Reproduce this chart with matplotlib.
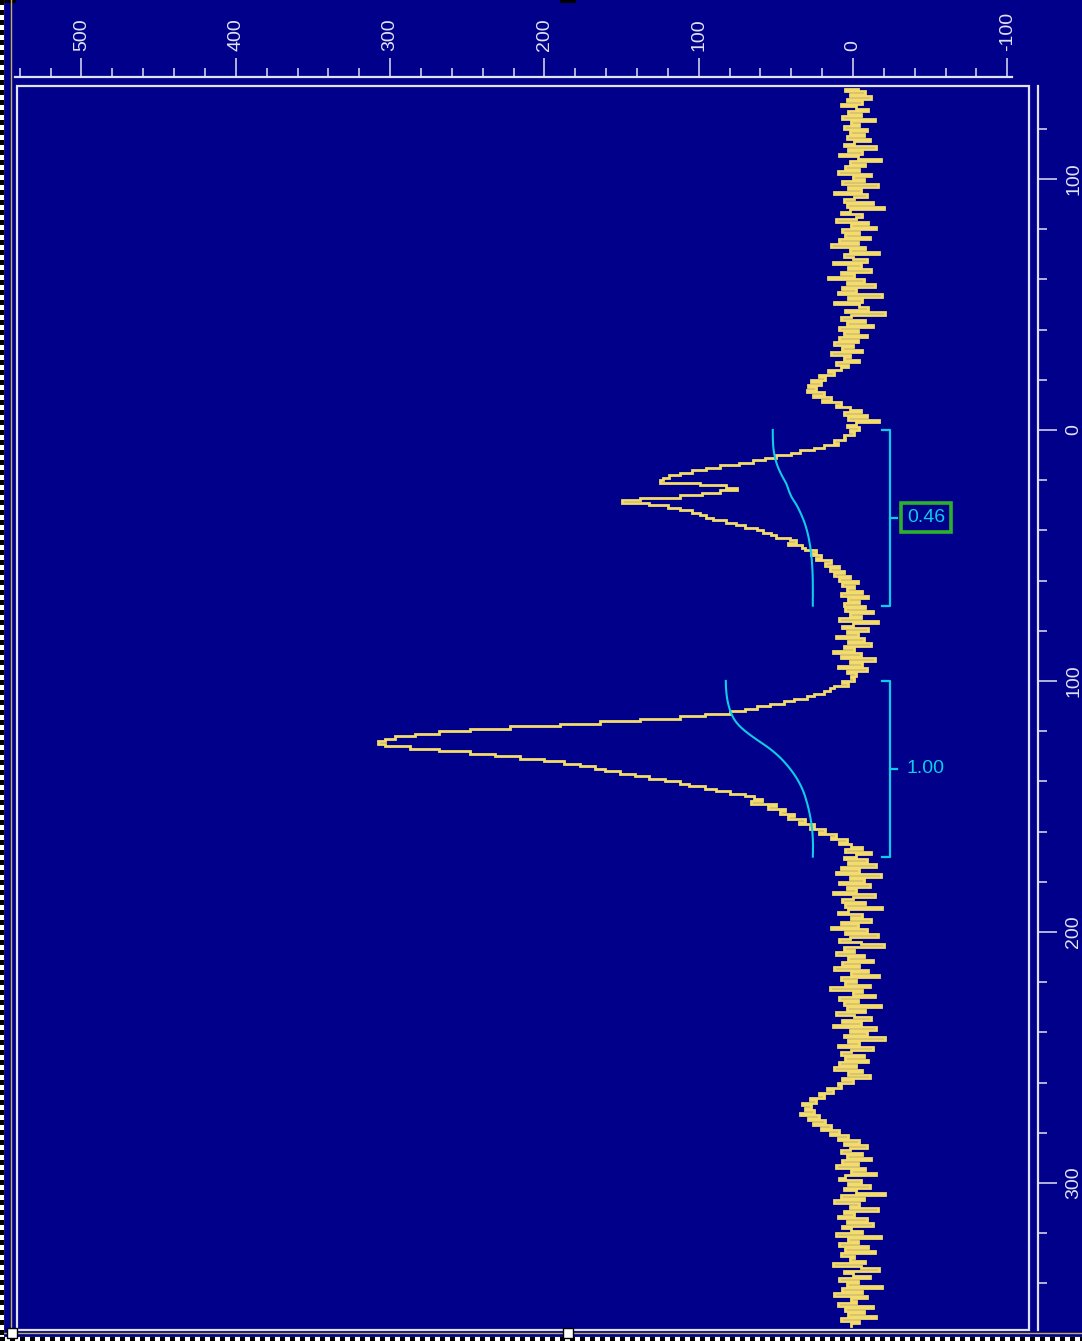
import numpy as np
import matplotlib
matplotlib.use("Agg")
import matplotlib.pyplot as plt
from matplotlib.patches import Rectangle
from matplotlib.ticker import MultipleLocator

plt.rcParams['font.family'] = ['Liberation Sans', 'DejaVu Sans']

# ---------------------------------------------------------------------------
# Spectrum, one sample per shift unit, starting at shift = -136
# ---------------------------------------------------------------------------
shift_start = -136

baseline_top = [
    -3, 5, -8, 2, -12, 4, -6, 8, -2, -10, 3, -5, 7, -14, 1, -4, 6, -9, 2, -7,
    4, -11, -1, 6, -15, 3, -6, 9, -3, -18, 2, -8, 5, -4, 10, -12, 0, -7, 7, -16,
    3, -5, 12, -9, -1, 6, -13, 4, -20, 2, 8, -6, -2, 11, -10, 1, -15, 7, -4, 5,
    -11, 9, -3, 14, -8, 2, -17, 6, 0, -9, 13, -5, 3, -12, 8, -1, 16, -7, 4, -14,
    7, -2, 10, -19, 3, -6, 12, -4, -10, 5, -21, 1, 8, -8, 4, -13, 9, -3, 6, -9,
    9, -3, 12, 0, 7, -6, 14, 2, 6, -4, 11, 3, 8, 16, 12, 22, 18, 27, 21, 29,
    24, 30, 19, 26, 14, 20, 8, 11, 2, -5, 6, -9, 3, -17, -2, 4,
]

peak_a = [
    -4, 2, -1, 6, 5, 12, 10, 19, 25, 34, 40, 50, 57, 65, 74, 86, 95, 104, 112, 119,
    123, 125, 99, 82, 75, 86, 98, 112, 138, 150, 132, 120, 112, 104, 99, 95, 91, 82, 76, 70,
    62, 58, 53, 50, 41, 37, 42, 33, 31, 24, 27, 21, 24, 14, 18, 9, 15, 6, 12, 2,
    9, -3, 7, -1, 4, -6, 8, -10, 3, -4, 6,
]

baseline_mid = [
    -8, 5, -13, 2, -5, 9, -16, 0, 7, -10, 4, -3, 11, -7, 3, -12, 6, -1, 13, -5,
    8, -14, 2, -6, 10, -9, 4, -2, 1,
]

peak_b = [
    -1, 7, 3, 12, 15, 19, 25, 30, 38, 45, 54, 62, 70, 80, 96, 112, 138, 164, 190, 222,
    248, 268, 284, 297, 303, 308, 303, 287, 268, 248, 232, 216, 200, 187, 177, 167, 161, 151, 141, 132,
    122, 112, 106, 96, 89, 80, 70, 64, 59, 66, 50, 55, 44, 47, 38, 42, 31, 35, 25, 28,
    18, 22, 11, 14, 4, 9, 1, -6, 5, -12, -2,
]

baseline_bottom = [
    6, -9, 3, -15, 8, -4, 11, -18, 2, -7, 9, -11, 4, -2, 13, -14, 0, 7, -8, 5,
    -19, 3, 10, -6, 1, -12, 8, -3, 14, -9, 5, -16, 2, 9, -5, -20, 6, -1, 11, -7,
    3, -13, 7, -4, 12, -10, 1, -17, 8, -2, 5, -11, 15, -6, 0, -14, 9, -3, 6, -18,
    4, -8, 11, -1, -12, 7, -5, 13, -15, 2, -9, 6, -21, 3, -4, 10, -13, 1, 8, -7,
    5, -10, 9, -2, 12, -6, 3, -11, 7, 0, 10, 8, 17, 13, 22, 19, 28, 24, 33, 27,
    31, 25, 34, 22, 29, 18, 26, 14, 21, 9, 15, 3, 10, -4, 6, -9, 2, 8, -6, 4,
    -12, 7, -3, 11, -8, 1, -15, 5, 9, -5, 3, -11, 6, -2, -21, 8, -7, 12, -4, 2,
    -16, 6, -1, 10, -9, 4, -13, 7, 1, -6, 11, -18, 3, -3, 9, -10, 5, -14, 8, -1,
    2, -8, 13, -5, -17, 6, 0, -11, 9, -3, 4, -19, 7, -6, 12, -9, 1, -2, 10, -13,
    5, -7, 3, -15, 8, -4, 1,
]

# Integration regions (shift units) and their relative integrals
integral_ranges = [(0, 70), (100, 170)]
integral_values = [0.46, 1.00]
integral_labels = ["0.46", "1.00"]
boxed_label = "0.46"

# Axis ticks
intensity_ticks = [500, 400, 300, 200, 100, 0, -100]
intensity_tick_labels = ["500", "400", "300", "200", "100", "0", "-100"]
shift_ticks = [-100, 0, 100, 200, 300]
shift_tick_labels = ["100", "0", "100", "200", "300"]

# ---------------------------------------------------------------------------
NAVY = "#00008A"
FG = "#E2E2F6"
TRACE = "#F4DC6C"
CYAN = "#10CBE8"
GREEN = "#2DB02D"

intensity = np.array(baseline_top + peak_a + baseline_mid + peak_b + baseline_bottom, dtype=float)
shift = shift_start + np.arange(intensity.size)

W, H = 1082, 1341
fig = plt.figure(figsize=(W / 100, H / 100), dpi=100, facecolor=NAVY)

# plot box (pixels)
L, R, T, B = 17, 1029, 86, 1330
ax = fig.add_axes([L / W, 1 - B / H, (R - L) / W, (B - T) / H], zorder=2)
ax.set_facecolor("none")
ax.set_xlim(541.8, -114.1)
ax.set_ylim(358.6, -137.05)

# spectrum trace drawn as a vertical staircase
ax.plot(intensity, shift, drawstyle="steps-post", color=TRACE, lw=2.0,
        solid_joinstyle="miter", zorder=3)

# integrals, brackets and labels
int_scale = 56.4
int_end = 26.0
bracket_x = -24.0
for (a, b), val, txt in zip(integral_ranges, integral_values, integral_labels):
    m = (shift >= a) & (shift <= b)
    cum = np.cumsum(intensity[m])
    cum = cum / cum[-1]
    ax.plot(int_end + val * int_scale * (1 - cum), shift[m], color=CYAN, lw=1.5, zorder=4)
    ax.plot([bracket_x + 5, bracket_x, bracket_x, bracket_x + 5], [a, a, b, b],
            color=CYAN, lw=1.6, zorder=4)
    mid = 0.5 * (a + b)
    ax.plot([bracket_x, bracket_x - 4.5], [mid, mid], color=CYAN, lw=1.6, zorder=4)
    kw = dict(color=CYAN, fontsize=14, ha="left", va="center", zorder=5)
    if txt == boxed_label:
        kw["bbox"] = dict(boxstyle="square,pad=0.3", fc="none", ec=GREEN, lw=2.6)
    ax.text(bracket_x - 11, mid, txt, **kw)

# axes: intensity on top, shift on the right
for s in ("left", "bottom"):
    ax.spines[s].set_visible(False)
for s in ("top", "right"):
    ax.spines[s].set_position(("outward", 6.5))
    ax.spines[s].set_color(FG)
    ax.spines[s].set_linewidth(1.6)
ax.spines["top"].set_bounds(543, -103)

ax.xaxis.set_ticks_position("top")
ax.yaxis.set_ticks_position("right")
ax.set_xticks(intensity_ticks)
ax.set_xticklabels(intensity_tick_labels)
ax.set_yticks(shift_ticks)
ax.set_yticklabels(shift_tick_labels)
ax.xaxis.set_minor_locator(MultipleLocator(20))
ax.yaxis.set_minor_locator(MultipleLocator(20))
ax.tick_params(which="major", length=14, width=1.1, color=FG, labelcolor=FG,
               labelsize=14, direction="out")
ax.tick_params(which="minor", length=6.5, width=1.1, color=FG, direction="out")
ax.tick_params(axis="x", which="major", labelrotation=90, pad=5)
ax.tick_params(axis="y", which="major", labelrotation=90, pad=5.5)
for lbl in ax.get_yticklabels():
    lbl.set_verticalalignment("center")

# plot frame
ax.add_patch(Rectangle((0, 0), 1, 1, transform=ax.transAxes, fill=False,
                       ec=FG, lw=1.6, clip_on=False, zorder=6))

# window decorations (pixel space)
ov = fig.add_axes([0, 0, 1, 1], zorder=5)
ov.set_xlim(0, W)
ov.set_ylim(H, 0)
ov.axis("off")
ov.plot([11, 11], [0, 1333], color="#BFB25A", lw=1.0)
ov.plot([0, W], [1333, 1333], color="#BFB25A", lw=1.0)
ov.plot([2, 2], [0, H], color="white", lw=3)
ov.plot([2, 2], [0, H], color="black", lw=3, linestyle=(0, (1.2, 1.2)))
ov.plot([0, W], [1338.5, 1338.5], color="white", lw=3)
ov.plot([0, W], [1338.5, 1338.5], color="black", lw=3, linestyle=(0, (1.2, 1.2)))
ov.add_patch(Rectangle((0, 0), 16, 3, fc="black", ec="none"))
ov.add_patch(Rectangle((560, 0), 16, 3, fc="black", ec="none"))
for hx in (12, 568):
    ov.add_patch(Rectangle((hx - 5, 1328), 10, 10, fc="white", ec="black", lw=1.0, zorder=7))

fig.savefig("out.png", dpi=100, facecolor=NAVY)
